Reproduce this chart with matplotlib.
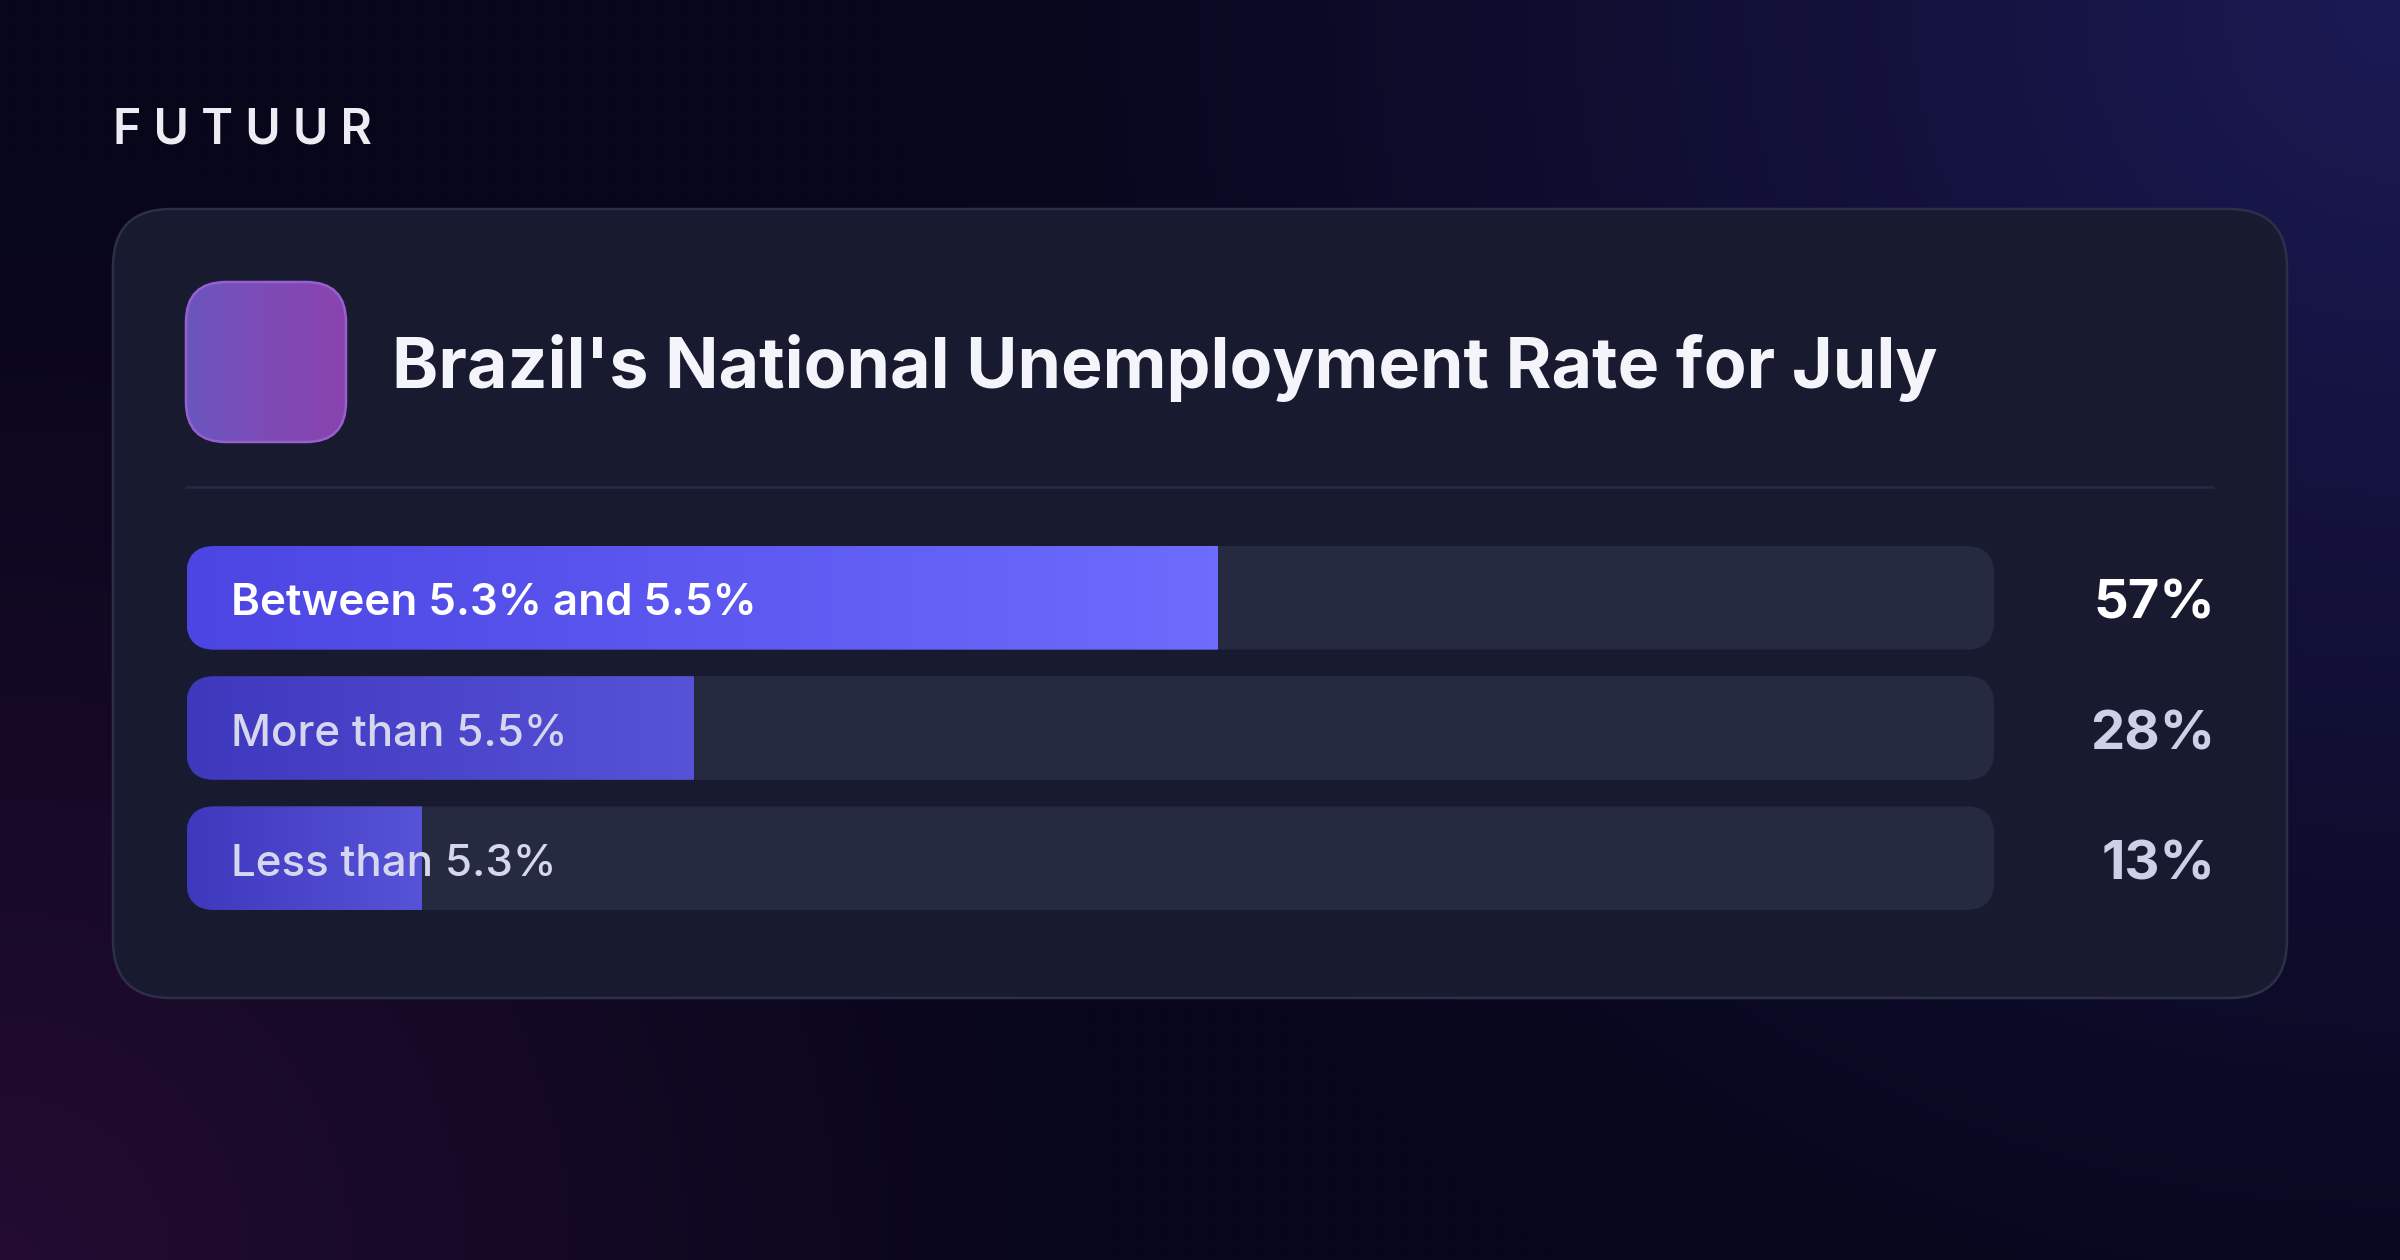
import numpy as np
import matplotlib
matplotlib.use("Agg")
import matplotlib.pyplot as plt
from matplotlib.patches import FancyBboxPatch
from matplotlib.colors import LinearSegmentedColormap, to_rgb
from matplotlib.transforms import offset_copy

W, H = 2400, 1260
DPI = 200

brand = "FUTUUR"
title = "Brazil's National Unemployment Rate for July"
options = ["Between 5.3% and 5.5%", "More than 5.5%", "Less than 5.3%"]
shares = [57, 28, 13]
share_labels = ["57%", "28%", "13%"]

plt.rcParams["font.family"] = ["Inter", "DejaVu Sans"]

fig = plt.figure(figsize=(W / DPI, H / DPI), dpi=DPI)

# Background canvas in pixel coordinates
bg = fig.add_axes([0, 0, 1, 1])
bg.set_xlim(0, W)
bg.set_ylim(H, 0)
bg.axis("off")

# Soft glows: blue-violet top right, plum bottom left
yy, xx = np.mgrid[0:H:6, 0:W:6].astype(float)
base = np.array(to_rgb("#07061a"))
glow_tr = np.array(to_rgb("#1c1a54"))
glow_bl = np.array(to_rgb("#240c32"))
w_tr = np.clip(1 - np.hypot(xx - W, yy) / 1500, 0, 1) ** 1.2
w_bl = np.clip(1 - np.hypot(xx, yy - H) / 1100, 0, 1) ** 1.1
img = base + (glow_tr - base) * w_tr[..., None] + (glow_bl - base) * w_bl[..., None]
bg.imshow(np.clip(img, 0, 1), extent=(0, W, H, 0), interpolation="bilinear", zorder=0)

# Card
card = FancyBboxPatch((113, 209), 2174, 789, boxstyle="round,pad=0,rounding_size=58",
                      fc="#181a30", ec="#2c2f48", lw=0.9, zorder=1)
bg.add_patch(card)

# Icon square with purple gradient
icon = FancyBboxPatch((186, 282), 160, 160, boxstyle="round,pad=0,rounding_size=40",
                      fc="none", ec="#9560cf", lw=0.9, zorder=3)
bg.add_patch(icon)
icon_cmap = LinearSegmentedColormap.from_list("icon", ["#6a56be", "#7d4bb6", "#8b43ae"])
icon_img = bg.imshow(np.linspace(0, 1, 256).reshape(1, -1), cmap=icon_cmap,
                     extent=(186, 346, 442, 282), aspect="auto", interpolation="bicubic", zorder=2)
icon_img.set_clip_path(icon)

# Brand and title
bg.text(113, 144, " ".join(brand), fontsize=17.4, weight="semibold", color="#ececf2",
        va="baseline", ha="left", zorder=3)
bg.text(392, 388, title, fontsize=25.2, weight="bold", color="#f4f5fa",
        va="baseline", ha="left", zorder=3)

# Divider
bg.plot([186, 2213], [487, 487], color="#282a43", lw=0.9, zorder=2)
bg.set_xlim(0, W)
bg.set_ylim(H, 0)

# Bars
track_left, track_right = 186.5, 1994
track_top, track_bottom = 546, 910
ax = fig.add_axes([track_left / W, 1 - track_bottom / H,
                   (track_right - track_left) / W, (track_bottom - track_top) / H])
ax.axis("off")
n = len(options)
bar_h = 0.796
ax.set_xlim(0, 100)
ax.set_ylim(n - 1 + bar_h / 2, -bar_h / 2)

px_x = (track_right - track_left) / 100
px_y = (track_bottom - track_top) / (n - 1 + bar_h)
radius_px = 28
rx = radius_px / px_x
m_aspect = px_x / px_y

fill_cmaps = [
    LinearSegmentedColormap.from_list("first", ["#4c45e3", "#5c58f0", "#6d6cfd"]),
    LinearSegmentedColormap.from_list("rest", ["#3e38bd", "#4a45cb", "#5753d9"]),
    LinearSegmentedColormap.from_list("rest2", ["#3e38bd", "#4a45cb", "#5753d9"]),
]
grad = np.linspace(0, 1, 256).reshape(1, -1)

label_shift = offset_copy(ax.transData, fig=fig, y=-17.5 * 72 / DPI, units="points")
pct_shift = offset_copy(ax.transData, fig=fig, y=-21 * 72 / DPI, units="points")

for i, (opt, val, lab) in enumerate(zip(options, shares, share_labels)):
    track = FancyBboxPatch((0, i - bar_h / 2), 100, bar_h,
                           boxstyle=f"round,pad=0,rounding_size={rx}",
                           mutation_aspect=m_aspect, fc="#262a40", ec="none", zorder=1)
    ax.add_patch(track)
    fill = ax.imshow(grad, cmap=fill_cmaps[i], extent=(0, val, i + bar_h / 2, i - bar_h / 2),
                     aspect="auto", interpolation="bicubic", zorder=2)
    fill.set_clip_path(track)

    first = i == 0
    ax.text(44.5 / px_x, i, opt, transform=label_shift, fontsize=15.8,
            weight="semibold" if first else "medium",
            color="#ffffff" if first else "#d6d7ee", va="baseline", ha="left", zorder=3)
    ax.text((2215 - track_left) / px_x, i, lab, transform=pct_shift, fontsize=19.6,
            weight="bold", color="#ffffff" if first else "#cdd0e6",
            va="baseline", ha="right", clip_on=False, zorder=3)

ax.set_xlim(0, 100)
ax.set_ylim(n - 1 + bar_h / 2, -bar_h / 2)

fig.savefig("out.png", dpi=DPI, facecolor="#07061a")
